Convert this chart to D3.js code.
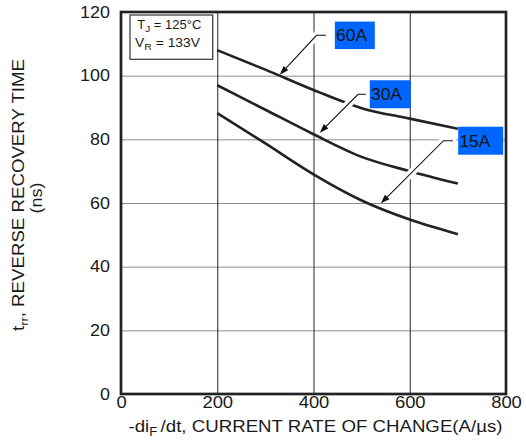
<!DOCTYPE html>
<html>
<head>
<meta charset="utf-8">
<script src="https://cdn.jsdelivr.net/npm/d3@7"></script>
<style>
    body { margin: 0; background: #fff; }
    text { font-family: "Liberation Sans", Arial, Helvetica, sans-serif; fill: #1a1a1a; }
</style>
</head>
<body>
<div id="chart"></div>
<script>
// reverse recovery time vs -diF/dt, Tj = 125C
const rate = [200, 300, 400, 500, 600, 700];
const trr60A = [108.0, 101.9, 95.5, 89.8, 86.5, 83.3];
const trr30A = [97.0, 89.3, 81.6, 74.5, 70.0, 66.1];
const trr15A = [88.2, 78.7, 69.0, 60.8, 54.8, 50.2];
const seriesNames = ["60A", "30A", "15A"];
const xTicks = [0, 200, 400, 600, 800];
const yTicks = [0, 20, 40, 60, 80, 100, 120];
// where each label arrow touches its curve
const tipRate = [330, 413, 540];
const tipTrr = [100.3, 82.1, 59.9];

const W = 526, H = 447;
const margin = {top: 12, right: 20, bottom: 53, left: 121};
const w = W - margin.left - margin.right;
const h = H - margin.top - margin.bottom;

const svg = d3.select("#chart").append("svg")
    .attr("width", W)
    .attr("height", H);

const g = svg.append("g")
    .attr("transform", "translate(" + margin.left + "," + margin.top + ")");

const x = d3.scaleLinear().domain([0, 800]).range([0, w]);
const y = d3.scaleLinear().domain([0, 120]).range([h, 0]);

// stretch text a bit, the reference font is wide
function widen(sel, k) {
    sel.each(function() {
        const n = this.getComputedTextLength();
        d3.select(this).attr("textLength", n * k).attr("lengthAdjust", "spacingAndGlyphs");
    });
}

// grid
g.append("g")
    .attr("class", "grid-y")
    .call(d3.axisLeft(y).tickValues(yTicks.slice(1, -1)).tickSize(-w).tickFormat(""))
    .call(a => a.select(".domain").remove())
    .selectAll("line").attr("stroke", "#8c8c8c").attr("stroke-width", 1);

g.append("g")
    .attr("class", "grid-x")
    .attr("transform", "translate(0," + h + ")")
    .call(d3.axisBottom(x).tickValues(xTicks.slice(1, -1)).tickSize(-h).tickFormat(""))
    .call(a => a.select(".domain").remove())
    .selectAll("line").attr("stroke", "#222").attr("stroke-width", 1);

// curves
const series = [trr60A, trr30A, trr15A];
const line = d3.line()
    .x(d => x(d[0]))
    .y(d => y(d[1]))
    .curve(d3.curveMonotoneX);

g.selectAll(".curve")
    .data(series)
    .enter()
    .append("path")
    .attr("class", "curve")
    .attr("d", s => line(rate.map((r, i) => [r, s[i]])))
    .attr("fill", "none")
    .attr("stroke", "#222")
    .attr("stroke-width", 2.6);

// label leaders: elbow offset from tip (px), horizontal run, box gap and size
const leader = [
    {dx: 36.7, dy: -39.4, run: 9.3, gap: 9, bw: 40, bh: 27.5},
    {dx: 38.3, dy: -38.4, run: 7.7, gap: 4, bw: 41, bh: 28},
    {dx: 62.6, dy: -62.6, run: 9.4, gap: 5.3, bw: 45, bh: 28}
];

seriesNames.forEach(function(name, i) {
    const L = leader[i];
    const tx = x(tipRate[i]), ty = y(tipTrr[i]);
    const ex = tx + L.dx, ey = ty + L.dy;
    const hx = ex + L.run;
    const len = Math.hypot(L.dx, L.dy);
    const ux = L.dx / len, uy = L.dy / len;

    // white halo so the leader cuts the curves it crosses
    g.append("path")
        .attr("d", "M" + (tx + ux * 11) + "," + (ty + uy * 11) + "L" + ex + "," + ey + "L" + (hx + 3) + "," + ey)
        .attr("fill", "none")
        .attr("stroke", "#fff")
        .attr("stroke-width", 8);

    g.append("path")
        .attr("d", "M" + (tx + ux * 6) + "," + (ty + uy * 6) + "L" + ex + "," + ey + "L" + hx + "," + ey)
        .attr("fill", "none")
        .attr("stroke", "#111")
        .attr("stroke-width", 1.1);

    // arrow head
    const al = 9, aw = 3.2;
    const bx = tx + ux * al, by = ty + uy * al;
    g.append("path")
        .attr("d", "M" + tx + "," + ty +
            "L" + (bx - uy * aw) + "," + (by + ux * aw) +
            "L" + (bx + uy * aw) + "," + (by - ux * aw) + "Z")
        .attr("fill", "#111");

    const bx0 = hx + L.gap;
    g.append("rect")
        .attr("x", bx0)
        .attr("y", ey - L.bh / 2)
        .attr("width", L.bw)
        .attr("height", L.bh)
        .attr("fill", "#0066ff");

    g.append("text")
        .attr("x", bx0 + 1.2)
        .attr("y", ey + 5.8)
        .attr("font-size", "16px")
        .style("fill", "#111")
        .text(name)
        .call(widen, 1.09);
});

// conditions box
const cond = g.append("g").attr("transform", "translate(9,3)");
cond.append("rect")
    .attr("width", 82.7)
    .attr("height", 44.3)
    .attr("fill", "#fff")
    .attr("stroke", "#333")
    .attr("stroke-width", 1.2);

const c1 = cond.append("text").attr("x", 7.3).attr("y", 14.3).attr("font-size", "12.5px");
c1.append("tspan").text("T");
c1.append("tspan").attr("dy", 3).attr("font-size", "9.5px").text("J");
c1.append("tspan").attr("dy", -3).text(" = 125°C");
c1.attr("textLength", 64).attr("lengthAdjust", "spacingAndGlyphs");

const c2 = cond.append("text").attr("x", 5).attr("y", 32.3).attr("font-size", "12.5px");
c2.append("tspan").text("V");
c2.append("tspan").attr("dy", 3).attr("font-size", "9.5px").text("R");
c2.append("tspan").attr("dy", -3).text(" = 133V");
c2.attr("textLength", 65).attr("lengthAdjust", "spacingAndGlyphs");

// frame
g.append("rect")
    .attr("width", w)
    .attr("height", h)
    .attr("fill", "none")
    .attr("stroke", "#222")
    .attr("stroke-width", 2.7);

// tick labels
g.append("g")
    .attr("transform", "translate(0," + h + ")")
    .call(d3.axisBottom(x).tickValues(xTicks).tickSize(0).tickPadding(2.5))
    .call(a => a.select(".domain").remove())
    .selectAll("text")
    .attr("font-size", "16px")
    .attr("font-family", null)
    .attr("fill", null)
    .call(widen, 1.15);

g.append("g")
    .call(d3.axisLeft(y).tickValues(yTicks).tickSize(0).tickPadding(11))
    .call(a => a.select(".domain").remove())
    .selectAll("text")
    .attr("font-size", "16px")
    .attr("font-family", null)
    .attr("fill", null)
    .call(widen, 1.12);

// axis titles
const xt = svg.append("text")
    .attr("x", margin.left + w / 2 + 2)
    .attr("y", 432)
    .attr("text-anchor", "middle")
    .attr("font-size", "17px");
xt.append("tspan").text("-di");
xt.append("tspan").attr("dy", 4).attr("font-size", "12px").text("F");
xt.append("tspan").attr("dy", -4).attr("dx", 3).text("/dt, CURRENT RATE OF CHANGE(A/µs)");
xt.attr("textLength", 374).attr("lengthAdjust", "spacingAndGlyphs");

const yt = svg.append("text")
    .attr("transform", "translate(24,195) rotate(-90)")
    .attr("text-anchor", "middle")
    .attr("font-size", "16px");
yt.append("tspan").text("t");
yt.append("tspan").attr("dy", 4).attr("font-size", "11px").text("rr");
yt.append("tspan").attr("dy", -4).text(", REVERSE RECOVERY TIME");
yt.attr("textLength", 272).attr("lengthAdjust", "spacingAndGlyphs");

svg.append("text")
    .attr("transform", "translate(42,198) rotate(-90)")
    .attr("text-anchor", "middle")
    .attr("font-size", "16px")
    .text("(ns)")
    .call(widen, 1.12);
</script>
</body>
</html>
